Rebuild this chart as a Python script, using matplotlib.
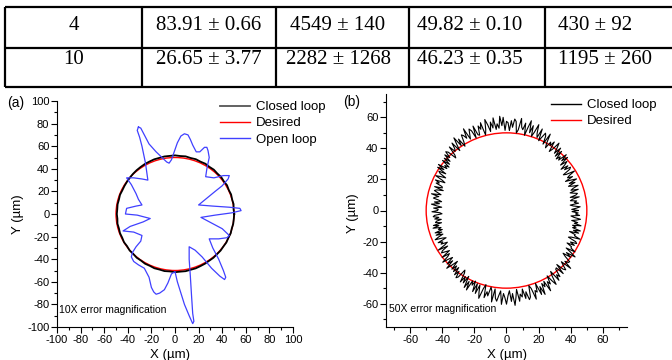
import numpy as np
import matplotlib.pyplot as plt
from matplotlib.patches import Circle
from matplotlib.lines import Line2D
from matplotlib.ticker import MultipleLocator

plt.rcParams['font.family'] = ['Liberation Sans', 'DejaVu Sans']
plt.rcParams['axes.unicode_minus'] = False

# part of the table sitting above the two panels
table_rows = [
    ["4", "83.91 \u00b1 0.66", "4549 \u00b1 140", "49.82 \u00b1 0.10", "430 \u00b1 92"],
    ["10", "26.65 \u00b1 3.77", "2282 \u00b1 1268", "46.23 \u00b1 0.35", "1195 \u00b1 260"],
]

desired_radius = 50

# (a) open loop trajectory, traced by eye (um)
open_x = [-31, -29, -26, -22, -16, -11, -7, -5, -3, -1, 2, 5, 8, 11, 13, 15, 18, 21, 25, 27,
          28, 29, 27, 26, 33, 41, 46, 45, 40, 34, 20, 32, 46, 55, 56, 48, 34, 22, 31, 40,
          46, 44, 37, 29, 32, 37, 41, 43, 42, 38, 31, 23, 17, 12, 12, 13, 14, 15, 16, 15,
          12, 8, 5, 2, 0, -3, -6, -9, -13, -16, -18, -20, -22, -26, -31, -35, -37, -36, -33, -29,
          -28, -35, -44, -38, -27, -21, -32, -42, -41, -33, -28, -31, -33, -37, -41, -35, -28, -23, -25, -28,
          -30, -32, -31]
open_y = [77, 76, 70, 62, 55, 50, 46, 45, 48, 54, 63, 69, 71, 70, 66, 61, 55, 55, 59, 59,
          56, 50, 40, 33, 32, 34, 34, 31, 25, 20, 8, 7, 6, 5, 3, 1, -1, -3, -8, -13,
          -19, -21, -22, -22, -30, -40, -50, -56, -58, -55, -48, -38, -32, -29, -40, -55, -72, -88, -95, -97,
          -90, -80, -70, -60, -51, -53, -61, -67, -70, -71, -69, -65, -56, -48, -45, -42, -38, -34, -29, -24,
          -19, -16, -15, -11, -7, -4, -1, 0, 5, 7, 8, 13, 18, 26, 32, 32, 31, 30, 45, 60,
          68, 74, 77]

# (a) closed loop radius, one value every 5 degrees
closed_a_step = 5
closed_a_r = [50.2, 49.8, 50.4, 50.1, 50.6, 50.3, 50.9, 50.5, 51.0, 50.7,
              51.2, 50.9, 51.4, 51.1, 51.6, 51.3, 51.8, 51.5, 51.9, 51.6,
              51.7, 51.4, 51.5, 51.2, 51.1, 50.8, 50.6, 50.3, 50.0, 49.7,
              49.5, 49.3, 49.6, 49.2, 49.4, 49.1, 49.3, 49.0, 49.5, 49.2,
              49.6, 49.4, 49.9, 49.6, 50.2, 50.0, 50.5, 50.3, 50.8, 50.6,
              51.1, 50.9, 51.3, 51.0, 51.5, 51.2, 51.4, 51.1, 51.2, 50.9,
              50.8, 50.5, 50.6, 50.3, 50.4, 50.1, 50.3, 49.9, 50.2, 49.8,
              50.1, 50.0]

# (b) closed loop radius, one value per degree
closed_b_step = 1
closed_b_r = [
    44.5, 40.6, 43.6, 45.9, 41.7, 39.8, 45.1, 42.5, 44.1, 40.3,
    41.7, 46.1, 40.6, 44.3, 45.5, 43.1, 41.2, 46.7, 42.2, 43.9,
    47.4, 43.7, 41.6, 46.3, 42.8, 48.1, 44.7, 41.2, 46.5, 43.4,
    45.3, 49.3, 43.8, 42.2, 47.5, 48.6, 44.7, 47.8, 43.1, 46.7,
    49.1, 44.6, 51.1, 47.0, 51.7, 45.9, 48.1, 45.4, 51.2, 46.3,
    52.4, 47.4, 51.2, 54.3, 48.8, 46.4, 53.2, 49.9, 51.9, 47.1,
    49.9, 56.2, 48.4, 53.7, 55.4, 52.0, 49.2, 57.0, 50.7, 53.1,
    58.8, 53.3, 50.2, 57.1, 52.1, 59.8, 54.8, 49.7, 57.5, 53.0,
    54.5, 60.0, 52.4, 50.3, 57.6, 59.1, 53.7, 57.9, 51.5, 56.5,
    57.4, 51.6, 60.0, 54.7, 60.8, 53.2, 56.1, 52.6, 60.2, 53.8,
    57.8, 51.8, 56.4, 60.1, 53.4, 50.4, 58.8, 54.7, 57.2, 51.3,
    51.9, 58.2, 50.4, 55.7, 57.4, 54.0, 51.2, 59.0, 52.7, 55.1,
    56.2, 51.5, 48.8, 54.8, 50.4, 57.1, 52.8, 48.3, 55.1, 51.2,
    49.7, 54.2, 48.0, 46.3, 52.2, 53.5, 49.1, 52.5, 47.3, 51.3,
    46.3, 51.2, 45.4, 48.1, 45.9, 51.7, 47.0, 51.1, 44.6, 49.1,
    47.7, 43.3, 46.6, 49.4, 44.5, 42.3, 48.4, 45.4, 47.2, 43.0,
    42.5, 47.3, 41.4, 45.4, 46.7, 44.1, 42.0, 47.9, 43.1, 45.0,
    46.2, 42.7, 40.8, 45.2, 42.0, 46.9, 43.7, 40.4, 45.4, 42.5,
    42.9, 46.4, 41.5, 40.2, 44.8, 45.8, 42.4, 45.0, 41.0, 44.1,
    44.9, 41.2, 46.5, 43.2, 47.1, 42.2, 44.1, 41.8, 46.7, 42.6,
    46.6, 42.4, 45.6, 48.2, 43.6, 41.5, 47.3, 44.5, 46.1, 42.1,
    44.4, 49.5, 43.2, 47.5, 48.8, 46.1, 43.9, 50.1, 45.1, 47.0,
    51.8, 47.6, 45.2, 50.5, 46.6, 52.6, 48.8, 44.8, 50.8, 47.3,
    51.3, 47.3, 52.5, 49.1, 53.5, 52.2, 46.3, 48.0, 54.2, 49.7,
    53.8, 48.5, 56.1, 51.3, 56.9, 50.0, 52.6, 49.4, 56.3, 50.5,
    56.8, 50.8, 55.4, 59.1, 52.4, 49.4, 57.8, 53.7, 56.2, 50.3,
    52.6, 59.6, 51.0, 56.8, 58.7, 54.9, 51.9, 60.5, 53.5, 56.2,
    60.3, 54.8, 51.7, 58.6, 53.6, 61.3, 56.3, 51.2, 59.0, 54.5,
    56.5, 51.5, 57.9, 53.7, 59.1, 57.6, 50.3, 52.4, 60.0, 54.5,
    55.9, 50.3, 58.3, 53.2, 59.1, 51.9, 54.6, 51.2, 58.5, 52.4,
    54.6, 49.1, 53.3, 56.7, 50.6, 47.9, 55.5, 51.8, 54.0, 48.7,
    48.2, 53.8, 46.8, 51.6, 53.1, 50.0, 47.5, 54.6, 48.9, 51.0,
    51.3, 47.1, 44.7, 50.0, 46.1, 52.1, 48.3, 44.3, 50.3, 46.8,
    46.7, 43.1, 47.8, 44.7, 48.6, 47.5, 42.2, 43.8, 49.3, 45.3,
    45.5, 41.5, 47.2, 43.6, 47.8, 42.6, 44.6, 42.2, 47.4, 43.0,
    45.0, 41.1, 44.1, 46.4, 42.2, 40.3, 45.6, 43.0, 44.6, 40.8]


def polar_to_xy(radii, step):
    ang = np.deg2rad(np.arange(len(radii)) * step)
    r = np.asarray(radii, dtype=float)
    x = r * np.cos(ang)
    y = r * np.sin(ang)
    return np.append(x, x[0]), np.append(y, y[0])


def style_axes(ax, lim, major, minor):
    ax.set_xlim(-lim[0], lim[0])
    ax.set_ylim(-lim[1], lim[1])
    for s in ['top', 'right']:
        ax.spines[s].set_visible(False)
    for s in ['left', 'bottom']:
        ax.spines[s].set_linewidth(0.8)
    ax.xaxis.set_major_locator(MultipleLocator(major))
    ax.yaxis.set_major_locator(MultipleLocator(major))
    ax.xaxis.set_minor_locator(MultipleLocator(minor))
    ax.yaxis.set_minor_locator(MultipleLocator(minor))
    ax.tick_params(which='major', direction='out', length=4, width=0.8, labelsize=8, pad=1.5)
    ax.tick_params(which='minor', direction='out', length=2.5, width=0.8)
    ax.set_xlabel("X (\u00b5m)", fontsize=9.5)
    ax.set_ylabel("Y (\u00b5m)", fontsize=9.5)
    ax.xaxis.label.set_va('center')
    ax.yaxis.label.set_va('center')


fig = plt.figure(figsize=(6.72, 3.6), dpi=100)

# ---- table, drawn in pixel coordinates
tab = fig.add_axes([0, 0, 1, 1])
tab.set_xlim(0, 672)
tab.set_ylim(360, 0)
tab.axis('off')
row_lines = [7, 48, 87]
col_lines = [5, 142, 276, 409, 545]
tab.hlines(row_lines, 5, 672, color='black', lw=1.6)
tab.vlines(col_lines, row_lines[0], row_lines[-1], color='black', lw=1.6)
text_x = [74, 209, 338, 470, 558]
text_y = [29.5, 64.5]
for i, row in enumerate(table_rows):
    for j, cell in enumerate(row):
        tab.text(text_x[j], text_y[i], cell, ha='left' if j == 4 else 'center', va='baseline',
                 fontsize=15, family=['Liberation Serif', 'DejaVu Serif'])

# ---- panel (a)
ax1 = fig.add_axes([57 / 672, 33 / 360, 236 / 672, 226 / 360])
cx, cy = polar_to_xy(closed_a_r, closed_a_step)
ax1.plot(cx, cy, color='black', lw=1.3)
ax1.add_patch(Circle((0, 0), desired_radius, fill=False, color='#ff0000', lw=1.0))
ax1.plot(open_x, open_y, color='#4040ff', lw=0.9)
style_axes(ax1, (100, 100), 20, 10)
ax1.xaxis.set_label_coords(0.479, -0.124)
ax1.yaxis.set_label_coords(-0.165, 0.5)
ax1.text(0.008, 0.075, "10X error magnification", transform=ax1.transAxes,
         fontsize=7.5, va='center', ha='left')
h_a = [Line2D([], [], color='#555555', lw=1.3),
       Line2D([], [], color='#ff0000', lw=1.0),
       Line2D([], [], color='#4040ff', lw=1.0)]
fig.legend(h_a, ["Closed loop", "Desired", "Open loop"], loc='upper left',
           bbox_to_anchor=(220 / 672, 1 - 101 / 360), frameon=False, fontsize=9.5,
           handlelength=2.3, handletextpad=0.4, labelspacing=0.3,
           borderpad=0, borderaxespad=0)
fig.text(7 / 672, 1 - 103 / 360, "(a)", fontsize=10, va='center', ha='left')

# ---- panel (b)
ax2 = fig.add_axes([386 / 672, 33 / 360, 241 / 672, 233 / 360])
bx, by = polar_to_xy(closed_b_r, closed_b_step)
ax2.add_patch(Circle((0, 0), desired_radius, fill=False, color='#ff0000', lw=1.0))
ax2.plot(bx, by, color='black', lw=0.8)
style_axes(ax2, (75, 75), 20, 10)
ax2.xaxis.set_label_coords(0.502, -0.12)
ax2.yaxis.set_label_coords(-0.137, 0.49)
ax2.text(0.012, 0.077, "50X error magnification", transform=ax2.transAxes,
         fontsize=7.5, va='center', ha='left')
h_b = [Line2D([], [], color='black', lw=1.0),
       Line2D([], [], color='#ff0000', lw=1.0)]
fig.legend(h_b, ["Closed loop", "Desired"], loc='upper left',
           bbox_to_anchor=(551 / 672, 1 - 99 / 360), frameon=False, fontsize=9.5,
           handlelength=2.3, handletextpad=0.4, labelspacing=0.3,
           borderpad=0, borderaxespad=0)
fig.text(343 / 672, 1 - 102 / 360, "(b)", fontsize=10, va='center', ha='left')

fig.savefig("out.png", dpi=100)
